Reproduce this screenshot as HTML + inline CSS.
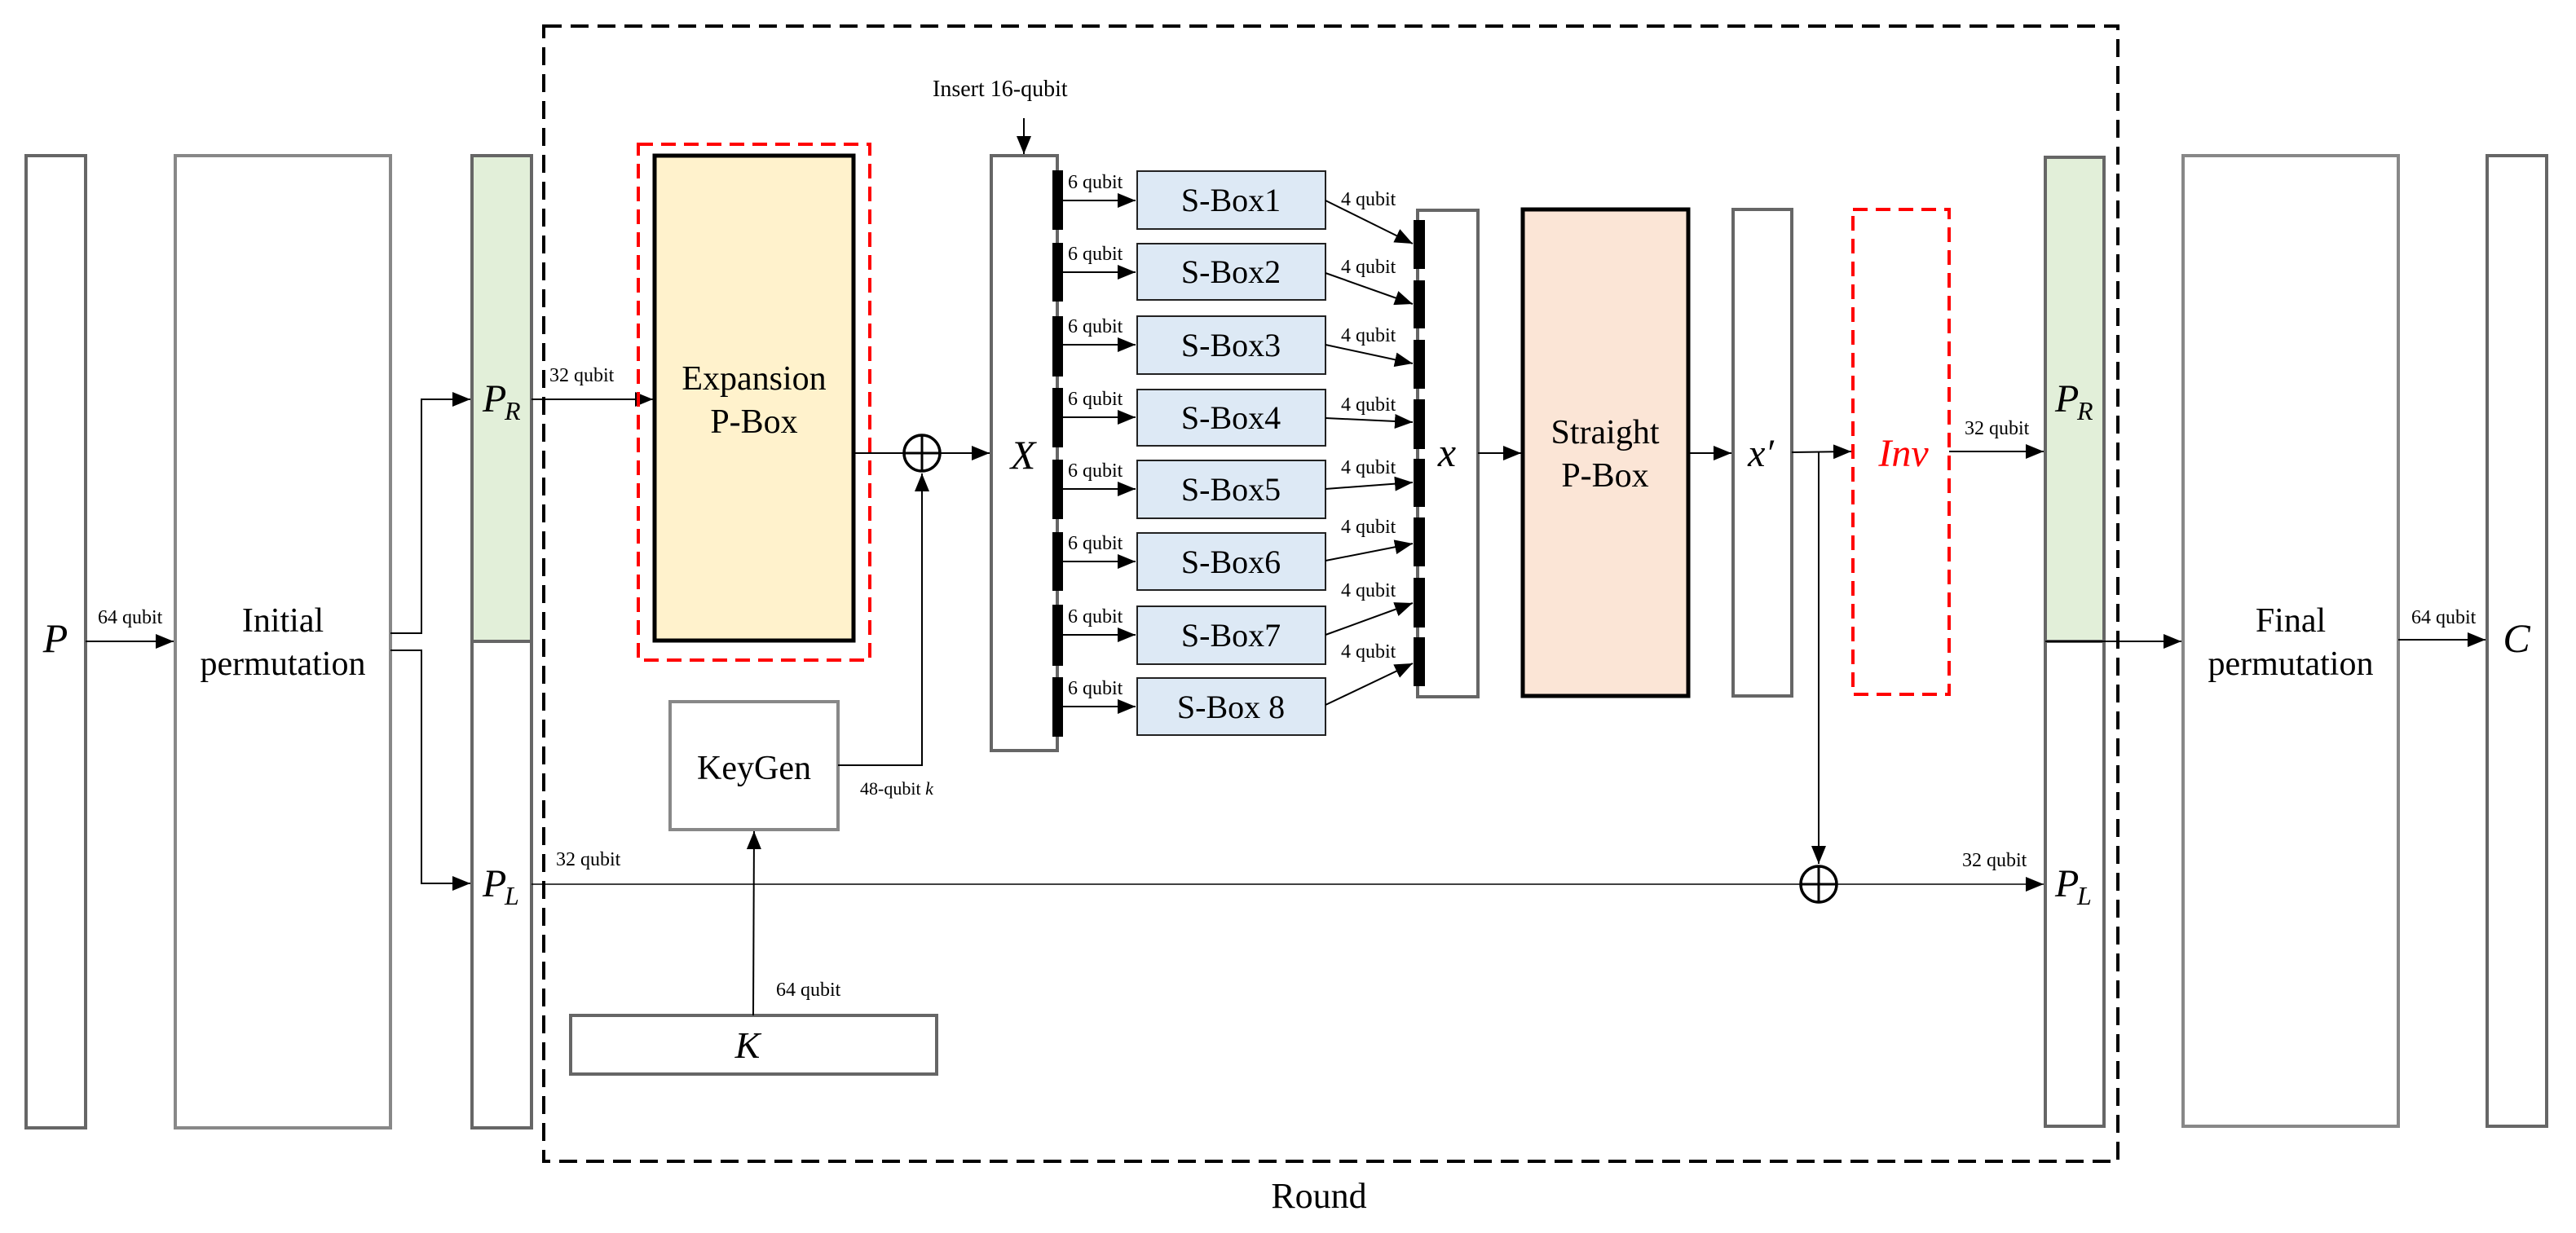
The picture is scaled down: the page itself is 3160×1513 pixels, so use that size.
<!DOCTYPE html>
<html><head><meta charset="utf-8"><style>
html,body{margin:0;padding:0;background:#fff;}
svg{display:block;}
text{font-family:"Liberation Serif",serif;fill:#000;}
.m{font-style:italic;}
</style></head><body>
<svg width="3160" height="1513" viewBox="0 0 3160 1513" xmlns="http://www.w3.org/2000/svg">
<defs>
<marker id="a" markerUnits="userSpaceOnUse" markerWidth="24" markerHeight="18" refX="22" refY="9" orient="auto">
<path d="M0,0 L22,9 L0,18 Z" fill="#000"/></marker>
</defs>
<!-- Round dashed -->
<rect x="667" y="32" width="1931" height="1393" fill="none" stroke="#000" stroke-width="4" stroke-dasharray="22,11"/>
<text x="1618" y="1482" font-size="44" text-anchor="middle">Round</text>

<!-- P -->
<rect x="32" y="191" width="73" height="1193" fill="#fff" stroke="#666" stroke-width="4"/>
<text x="68" y="800" font-size="50" class="m" text-anchor="middle">P</text>
<line x1="105" y1="787" x2="213" y2="787" stroke="#000" stroke-width="2" marker-end="url(#a)"/>
<text x="120" y="765" font-size="24">64 qubit</text>
<!-- Initial permutation -->
<rect x="215" y="191" width="264" height="1193" fill="#fff" stroke="#888" stroke-width="4"/>
<text x="347" y="775" font-size="42" text-anchor="middle">Initial</text>
<text x="347" y="828" font-size="42" text-anchor="middle">permutation</text>
<polyline points="479,777 517,777 517,490 577,490" fill="none" stroke="#000" stroke-width="2" marker-end="url(#a)"/>
<polyline points="479,798 517,798 517,1084 577,1084" fill="none" stroke="#000" stroke-width="2" marker-end="url(#a)"/>
<!-- PR/PL left -->
<rect x="579" y="191" width="73" height="596" fill="#e2efd9" stroke="#666" stroke-width="4"/>
<rect x="579" y="787" width="73" height="597" fill="#fff" stroke="#666" stroke-width="4"/>
<text x="592" y="505" font-size="48" class="m">P</text><text x="619" y="515" font-size="32" class="m">R</text>
<text x="592" y="1100" font-size="48" class="m">P</text><text x="619" y="1110" font-size="32" class="m">L</text>

<!-- Expansion -->
<line x1="652" y1="490" x2="801" y2="490" stroke="#000" stroke-width="2" marker-end="url(#a)"/>
<text x="674" y="468" font-size="24">32 qubit</text>
<rect x="803" y="191" width="244" height="595" fill="#fff2cc" stroke="#000" stroke-width="5"/>
<rect x="783" y="177" width="284" height="633" fill="none" stroke="#ff0000" stroke-width="4" stroke-dasharray="18,10"/>
<text x="925" y="478" font-size="42" text-anchor="middle">Expansion</text>
<text x="925" y="531" font-size="42" text-anchor="middle">P-Box</text>
<line x1="1047" y1="556" x2="1108" y2="556" stroke="#000" stroke-width="2"/>
<circle cx="1131" cy="556" r="22" fill="none" stroke="#000" stroke-width="3.5"/>
<line x1="1109" y1="556" x2="1153" y2="556" stroke="#000" stroke-width="3"/>
<line x1="1131" y1="534" x2="1131" y2="578" stroke="#000" stroke-width="3"/>
<line x1="1153" y1="556" x2="1214" y2="556" stroke="#000" stroke-width="2" marker-end="url(#a)"/>
<!-- KeyGen -->
<rect x="822" y="861" width="206" height="157" fill="#fff" stroke="#888" stroke-width="4"/>
<text x="925" y="956" font-size="42" text-anchor="middle">KeyGen</text>
<polyline points="1028,939 1131,939 1131,581" fill="none" stroke="#000" stroke-width="2" marker-end="url(#a)"/>
<text x="1055" y="975" font-size="22">48-qubit <tspan class="m">k</tspan></text>
<rect x="700" y="1246" width="449" height="72" fill="#fff" stroke="#666" stroke-width="4"/>
<text x="917" y="1298" font-size="46" class="m" text-anchor="middle">K</text>
<line x1="924" y1="1246" x2="925" y2="1020" stroke="#000" stroke-width="2" marker-end="url(#a)"/>
<text x="952" y="1222" font-size="24">64 qubit</text>
<!-- PL line -->
<line x1="652" y1="1085" x2="2208" y2="1085" stroke="#000" stroke-width="1.5"/>
<text x="682" y="1062" font-size="24">32 qubit</text>

<!-- Insert -->
<text x="1144" y="118" font-size="28">Insert 16-qubit</text>
<line x1="1256" y1="145" x2="1256" y2="189" stroke="#000" stroke-width="2" marker-end="url(#a)"/>
<!-- X box -->
<rect x="1216" y="191" width="81" height="730" fill="#fff" stroke="#666" stroke-width="4"/>
<text x="1255" y="575" font-size="50" class="m" text-anchor="middle">X</text>
<g fill="#000">
<rect x="1291" y="209" width="13" height="73"/><rect x="1291" y="298" width="13" height="72"/>
<rect x="1291" y="388" width="13" height="74"/><rect x="1291" y="476" width="13" height="73"/>
<rect x="1291" y="564" width="13" height="73"/><rect x="1291" y="653" width="13" height="72"/>
<rect x="1291" y="742" width="13" height="75"/><rect x="1291" y="831" width="13" height="73"/>
</g>
<!-- S-boxes -->
<g stroke="#222" stroke-width="2" fill="#dde9f5">
<rect x="1395" y="210" width="231" height="71"/><rect x="1395" y="299" width="231" height="69"/>
<rect x="1395" y="388" width="231" height="71"/><rect x="1395" y="478" width="231" height="69"/>
<rect x="1395" y="565" width="231" height="71"/><rect x="1395" y="654" width="231" height="70"/>
<rect x="1395" y="744" width="231" height="71"/><rect x="1395" y="832" width="231" height="70"/>
</g>
<g font-size="40" text-anchor="middle">
<text x="1510" y="259">S-Box1</text><text x="1510" y="347">S-Box2</text>
<text x="1510" y="437">S-Box3</text><text x="1510" y="526">S-Box4</text>
<text x="1510" y="614">S-Box5</text><text x="1510" y="703">S-Box6</text>
<text x="1510" y="793">S-Box7</text><text x="1510" y="881">S-Box 8</text>
</g>
<g stroke="#000" stroke-width="2" marker-end="url(#a)">
<line x1="1304" y1="246" x2="1393" y2="246"/><line x1="1304" y1="334" x2="1393" y2="334"/>
<line x1="1304" y1="423" x2="1393" y2="423"/><line x1="1304" y1="512" x2="1393" y2="512"/>
<line x1="1304" y1="600" x2="1393" y2="600"/><line x1="1304" y1="689" x2="1393" y2="689"/>
<line x1="1304" y1="779" x2="1393" y2="779"/><line x1="1304" y1="867" x2="1393" y2="867"/>
</g>
<g font-size="24">
<text x="1310" y="231">6 qubit</text><text x="1310" y="319">6 qubit</text>
<text x="1310" y="408">6 qubit</text><text x="1310" y="497">6 qubit</text>
<text x="1310" y="585">6 qubit</text><text x="1310" y="674">6 qubit</text>
<text x="1310" y="764">6 qubit</text><text x="1310" y="852">6 qubit</text>
</g>
<!-- x box -->
<rect x="1739" y="258" width="74" height="597" fill="#fff" stroke="#666" stroke-width="4"/>
<g fill="#000">
<rect x="1734" y="270" width="14" height="60"/><rect x="1734" y="344" width="14" height="59"/>
<rect x="1734" y="417" width="14" height="60"/><rect x="1734" y="490" width="14" height="61"/>
<rect x="1734" y="563" width="14" height="59"/><rect x="1734" y="635" width="14" height="60"/>
<rect x="1734" y="709" width="14" height="61"/><rect x="1734" y="782" width="14" height="60"/>
</g>
<text x="1775" y="572" font-size="50" class="m" text-anchor="middle">x</text>
<g stroke="#000" stroke-width="2" marker-end="url(#a)">
<line x1="1626" y1="246" x2="1733" y2="299"/><line x1="1626" y1="335" x2="1733" y2="373"/>
<line x1="1626" y1="423" x2="1733" y2="446"/><line x1="1626" y1="513" x2="1733" y2="518"/>
<line x1="1626" y1="600" x2="1733" y2="592"/><line x1="1626" y1="688" x2="1733" y2="667"/>
<line x1="1626" y1="779" x2="1733" y2="740"/><line x1="1626" y1="865" x2="1733" y2="814"/>
</g>
<g font-size="24">
<text x="1645" y="252">4 qubit</text><text x="1645" y="335">4 qubit</text>
<text x="1645" y="419">4 qubit</text><text x="1645" y="504">4 qubit</text>
<text x="1645" y="581">4 qubit</text><text x="1645" y="654">4 qubit</text>
<text x="1645" y="732">4 qubit</text><text x="1645" y="807">4 qubit</text>
</g>
<line x1="1813" y1="556" x2="1866" y2="556" stroke="#000" stroke-width="2" marker-end="url(#a)"/>
<!-- Straight P-Box -->
<rect x="1868" y="257" width="203" height="597" fill="#fbe5d6" stroke="#000" stroke-width="5"/>
<text x="1969" y="544" font-size="42" text-anchor="middle">Straight</text>
<text x="1969" y="597" font-size="42" text-anchor="middle">P-Box</text>
<line x1="2071" y1="556" x2="2124" y2="556" stroke="#000" stroke-width="2" marker-end="url(#a)"/>
<rect x="2126" y="257" width="72" height="597" fill="#fff" stroke="#666" stroke-width="4"/>
<text x="2160" y="572" font-size="48" class="m" text-anchor="middle">x′</text>
<line x1="2198" y1="555" x2="2271" y2="554" stroke="#000" stroke-width="2" marker-end="url(#a)"/>
<line x1="2231" y1="555" x2="2231" y2="1060" stroke="#000" stroke-width="2" marker-end="url(#a)"/>
<circle cx="2231" cy="1085" r="22" fill="#fff" stroke="#000" stroke-width="3.5"/>
<line x1="2209" y1="1085" x2="2253" y2="1085" stroke="#000" stroke-width="3"/>
<line x1="2231" y1="1063" x2="2231" y2="1107" stroke="#000" stroke-width="3"/>
<line x1="2253" y1="1085" x2="2507" y2="1085" stroke="#000" stroke-width="1.5" marker-end="url(#a)"/>
<text x="2407" y="1063" font-size="24">32 qubit</text>
<!-- Inv -->
<rect x="2273" y="257" width="118" height="595" fill="none" stroke="#ff0000" stroke-width="4" stroke-dasharray="18,10"/>
<text x="2335" y="572" font-size="48" class="m" fill="#ff0000" text-anchor="middle" style="fill:#ff0000">Inv</text>
<line x1="2391" y1="554" x2="2507" y2="554" stroke="#000" stroke-width="2" marker-end="url(#a)"/>
<text x="2410" y="533" font-size="24">32 qubit</text>
<!-- PR/PL right -->
<rect x="2509" y="193" width="72" height="594" fill="#e2efd9" stroke="#666" stroke-width="4"/>
<rect x="2509" y="787" width="72" height="595" fill="#fff" stroke="#666" stroke-width="4"/>
<text x="2521" y="505" font-size="48" class="m">P</text><text x="2548" y="515" font-size="32" class="m">R</text>
<text x="2521" y="1100" font-size="48" class="m">P</text><text x="2548" y="1110" font-size="32" class="m">L</text>
<line x1="2509" y1="787" x2="2676" y2="787" stroke="#000" stroke-width="2" marker-end="url(#a)"/>
<!-- Final -->
<rect x="2678" y="191" width="264" height="1191" fill="#fff" stroke="#888" stroke-width="4"/>
<text x="2810" y="775" font-size="42" text-anchor="middle">Final</text>
<text x="2810" y="828" font-size="42" text-anchor="middle">permutation</text>
<line x1="2942" y1="785" x2="3049" y2="785" stroke="#000" stroke-width="2" marker-end="url(#a)"/>
<text x="2958" y="765" font-size="24">64 qubit</text>
<rect x="3051" y="191" width="73" height="1191" fill="#fff" stroke="#666" stroke-width="4"/>
<text x="3087" y="800" font-size="50" class="m" text-anchor="middle">C</text>
</svg>
</body></html>
